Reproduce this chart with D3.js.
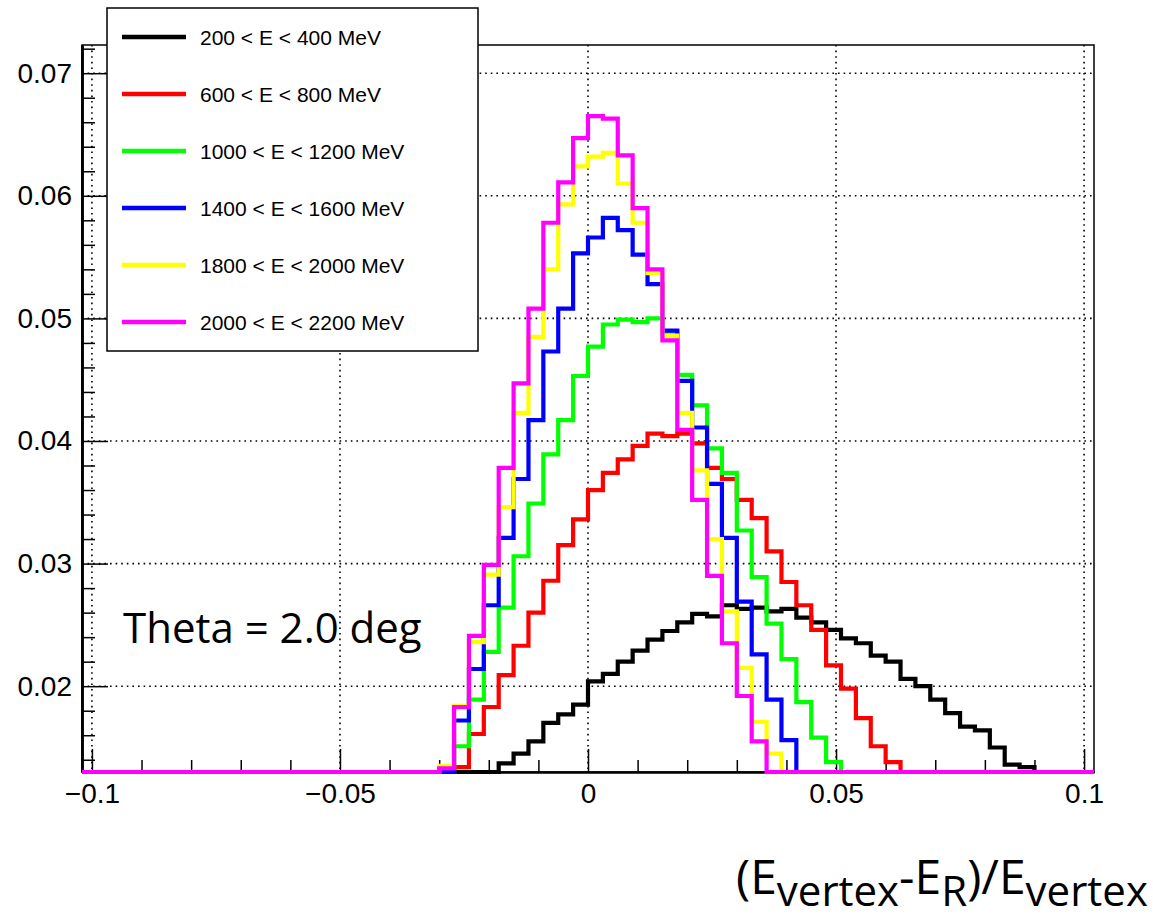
<!DOCTYPE html>
<html>
<head>
<meta charset="utf-8">
<script src="https://cdn.jsdelivr.net/npm/d3@7"></script>
<style>
  html, body { margin: 0; padding: 0; background: #fff; }
  svg { display: block; }
</style>
</head>
<body>
<svg id="chart" width="1153" height="918"></svg>
<script>
// ---------------- data ----------------
// histogram binning: 68 bins of width 0.003 starting at -0.102
const binStart = -0.102;
const binWidth = 0.003;

const seriesLabels = [
  "200 < E < 400 MeV",
  "600 < E < 800 MeV",
  "1000 < E < 1200 MeV",
  "1400 < E < 1600 MeV",
  "1800 < E < 2000 MeV",
  "2000 < E < 2200 MeV"
];
const seriesColors = ["#000000", "#ff0000", "#00ff00", "#0000ff", "#ffff00", "#ff00ff"];

// bins 0..23 are empty for all series (written out below)
const e200_400 = [
  0,0,0,0,0,0,0,0,0,0,0,0,0,0,0,0,0,0,0,0,0,0,0,0,
  0, 0, 0, 0, 0.0137, 0.0145, 0.0155, 0.0170, 0.0177, 0.0185,
  0.0204, 0.0210, 0.0220, 0.0229, 0.0238, 0.0245, 0.0252, 0.0259, 0.0257, 0.0266,
  0.0263, 0.0264, 0.0261, 0.0263, 0.0256, 0.0252, 0.0246, 0.0239, 0.0235, 0.0225,
  0.0220, 0.0206, 0.0200, 0.0189, 0.0178, 0.0167, 0.0164, 0.0150, 0.0136, 0.0134,
  0, 0, 0, 0
];
const e600_800 = [
  0,0,0,0,0,0,0,0,0,0,0,0,0,0,0,0,0,0,0,0,0,0,0,0,
  0, 0.0134, 0.0161, 0.0183, 0.0209, 0.0233, 0.0260, 0.0286, 0.0315, 0.0336,
  0.0360, 0.0374, 0.0385, 0.0396, 0.0406, 0.0404, 0.0406, 0.0398, 0.0378, 0.0369,
  0.0352, 0.0337, 0.0310, 0.0285, 0.0266, 0.0246, 0.0217, 0.0198, 0.0174, 0.0151,
  0.0138, 0, 0, 0, 0, 0, 0, 0, 0, 0,
  0, 0, 0, 0
];
const e1000_1200 = [
  0,0,0,0,0,0,0,0,0,0,0,0,0,0,0,0,0,0,0,0,0,0,0,0,
  0, 0.0151, 0.0189, 0.0228, 0.0264, 0.0306, 0.0349, 0.0389, 0.0417, 0.0453,
  0.0477, 0.0495, 0.0499, 0.0497, 0.0500, 0.0489, 0.0454, 0.0429, 0.0394, 0.0374,
  0.0327, 0.0289, 0.0251, 0.0222, 0.0187, 0.0158, 0.0138, 0, 0, 0,
  0, 0, 0, 0, 0, 0, 0, 0, 0, 0,
  0, 0, 0, 0
];
const e1400_1600 = [
  0,0,0,0,0,0,0,0,0,0,0,0,0,0,0,0,0,0,0,0,0,0,0,0,
  0, 0.0172, 0.0214, 0.0266, 0.0321, 0.0369, 0.0417, 0.0473, 0.0508, 0.0553,
  0.0566, 0.0582, 0.0572, 0.0552, 0.0528, 0.0490, 0.0449, 0.0411, 0.0365, 0.0321,
  0.0269, 0.0226, 0.0189, 0.0156, 0, 0, 0, 0, 0, 0,
  0, 0, 0, 0, 0, 0, 0, 0, 0, 0,
  0, 0, 0, 0
];
const e1800_2000 = [
  0,0,0,0,0,0,0,0,0,0,0,0,0,0,0,0,0,0,0,0,0,0,0,0,
  0.0135, 0.0184, 0.0236, 0.0291, 0.0346, 0.0423, 0.0485, 0.0540, 0.0593, 0.0624,
  0.0632, 0.0635, 0.0610, 0.0578, 0.0537, 0.0486, 0.0423, 0.0376, 0.0320, 0.0261,
  0.0215, 0.0171, 0.0145, 0, 0, 0, 0, 0, 0, 0,
  0, 0, 0, 0, 0, 0, 0, 0, 0, 0,
  0, 0, 0, 0
];
const e2000_2200 = [
  0,0,0,0,0,0,0,0,0,0,0,0,0,0,0,0,0,0,0,0,0,0,0,0,
  0.0133, 0.0183, 0.0241, 0.0299, 0.0378, 0.0447, 0.0508, 0.0578, 0.0611, 0.0647,
  0.0665, 0.0663, 0.0633, 0.0590, 0.0540, 0.0482, 0.0409, 0.0352, 0.0290, 0.0235,
  0.0192, 0.0155, 0, 0, 0, 0, 0, 0, 0, 0,
  0, 0, 0, 0, 0, 0, 0, 0, 0, 0,
  0, 0, 0, 0
];
const seriesValues = [e200_400, e600_800, e1000_1200, e1400_1600, e1800_2000, e2000_2200];

const xMajorTicks = [-0.1, -0.05, 0, 0.05, 0.1];
const xMajorLabels = ["\u22120.1", "\u22120.05", "0", "0.05", "0.1"];
const xMinorTicks = [-0.09,-0.08,-0.07,-0.06,-0.04,-0.03,-0.02,-0.01,0.01,0.02,0.03,0.04,0.06,0.07,0.08,0.09];
const yMajorTicks = [0.02, 0.03, 0.04, 0.05, 0.06, 0.07];
const yMajorLabels = ["0.02", "0.03", "0.04", "0.05", "0.06", "0.07"];
const yMinorTicks = [0.014,0.016,0.018,0.022,0.024,0.026,0.028,0.032,0.034,0.036,0.038,
                     0.042,0.044,0.046,0.048,0.052,0.054,0.056,0.058,0.062,0.064,0.066,0.068,0.072];
const xDomain = [-0.102, 0.102];
const yDomain = [0.013, 0.0723];

const annotation = "Theta = 2.0 deg";

// ---------------- drawing ----------------
const svg = d3.select("#chart");
svg.append("rect").attr("width", 1153).attr("height", 918).attr("fill", "#fff");

const L = 82, R = 1094, T = 45, B = 772;
const x = d3.scaleLinear().domain(xDomain).range([L, R]);
const y = d3.scaleLinear().domain(yDomain).range([B, T]);

// grid
const grid = svg.append("g").attr("stroke", "#000").attr("stroke-width", 1.6)
  .attr("stroke-dasharray", "1.6,4").attr("fill", "none");
grid.selectAll("line.gx").data(xMajorTicks).enter().append("line")
  .attr("x1", d => x(d)).attr("x2", d => x(d)).attr("y1", T).attr("y2", B);
grid.selectAll("line.gy").data(yMajorTicks).enter().append("line")
  .attr("x1", L).attr("x2", R).attr("y1", d => y(d)).attr("y2", d => y(d));

// frame (top/right)
svg.append("rect").attr("x", L).attr("y", T).attr("width", R - L).attr("height", B - T)
  .attr("fill", "none").attr("stroke", "#000").attr("stroke-width", 1.5);

// axes
const fontAxis = "'Liberation Sans', Arial, Helvetica, sans-serif";
function styleAxis(g, width) {
  g.select(".domain").attr("stroke", "#000").attr("stroke-width", width);
  g.selectAll(".tick line").attr("stroke", "#000").attr("stroke-width", 1.5);
  g.selectAll("text").attr("font-family", fontAxis).attr("font-size", 28).attr("fill", "#000");
}
const yAxisMinor = svg.append("g").attr("transform", `translate(${L},0)`)
  .call(d3.axisLeft(y).tickValues(yMinorTicks).tickSize(-13).tickSizeOuter(0).tickFormat(""));
styleAxis(yAxisMinor, 2.5);
const yAxisMajor = svg.append("g").attr("transform", `translate(${L},0)`)
  .call(d3.axisLeft(y).tickValues(yMajorTicks).tickSize(-26).tickSizeOuter(0).tickPadding(10)
    .tickFormat((d, i) => yMajorLabels[i]));
styleAxis(yAxisMajor, 2.5);

const xAxisMinor = svg.append("g").attr("transform", `translate(0,${B})`)
  .call(d3.axisBottom(x).tickValues(xMinorTicks).tickSize(-12).tickSizeOuter(0).tickFormat(""));
styleAxis(xAxisMinor, 2);
const xAxisMajor = svg.append("g").attr("transform", `translate(0,${B})`)
  .call(d3.axisBottom(x).tickValues(xMajorTicks).tickSize(-23).tickSizeOuter(0).tickPadding(11)
    .tickFormat((d, i) => xMajorLabels[i]));
styleAxis(xAxisMajor, 2);

// histograms
const line = d3.line().curve(d3.curveStepAfter);
seriesValues.forEach((vals, si) => {
  const pts = vals.map((v, i) => [x(binStart + i * binWidth), y(Math.max(v, yDomain[0]))]);
  const last = vals[vals.length - 1];
  pts.push([x(binStart + vals.length * binWidth), y(Math.max(last, yDomain[0]))]);
  svg.append("path").attr("d", line(pts)).attr("fill", "none")
    .attr("stroke", seriesColors[si]).attr("stroke-width", 4.2)
    .attr("stroke-linejoin", "miter").attr("stroke-linecap", "butt");
});

// legend
const leg = svg.append("g");
leg.append("rect").attr("x", 107).attr("y", 8).attr("width", 371).attr("height", 343)
  .attr("fill", "#fff").attr("stroke", "#000").attr("stroke-width", 1.5);
seriesLabels.forEach((lab, i) => {
  const ly = 37 + i * 57;
  leg.append("line").attr("x1", 122).attr("x2", 186).attr("y1", ly).attr("y2", ly)
    .attr("stroke", seriesColors[i]).attr("stroke-width", 4.3);
  leg.append("text").attr("x", 200).attr("y", ly).attr("dy", "0.36em")
    .attr("font-family", fontAxis).attr("font-size", 21).attr("fill", "#000").text(lab);
});

// annotation
svg.append("text").attr("x", 123).attr("y", 643)
  .attr("font-family", "'Open Sans', sans-serif").attr("font-size", 42).attr("fill", "#000")
  .text(annotation);

// x-axis title
const title = svg.append("text").attr("x", 736).attr("y", 894)
  .attr("font-family", "'Open Sans', sans-serif").attr("font-size", 48).attr("fill", "#000");
title.append("tspan").text("(E");
title.append("tspan").attr("font-size", 42).attr("dy", 12).text("vertex");
title.append("tspan").attr("dy", -12).text("-E");
title.append("tspan").attr("font-size", 42).attr("dy", 12).text("R");
title.append("tspan").attr("dy", -12).text(")/E");
title.append("tspan").attr("font-size", 42).attr("dy", 12).text("vertex");
</script>
</body>
</html>
